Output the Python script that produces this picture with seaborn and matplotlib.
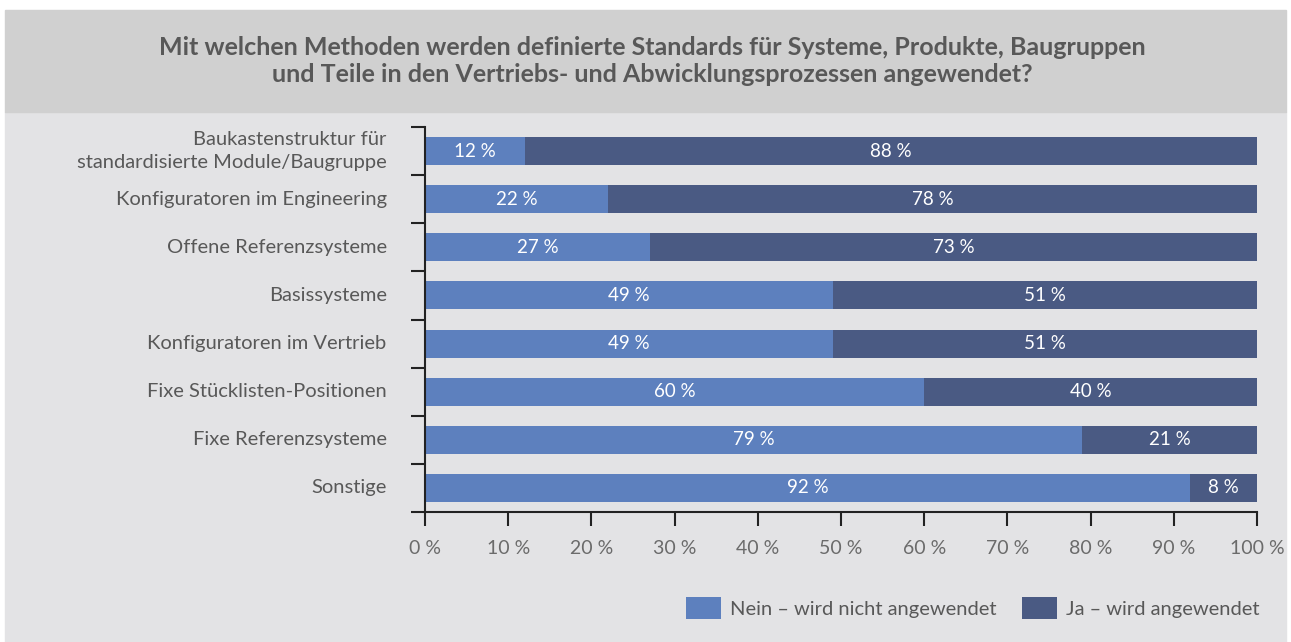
import matplotlib
matplotlib.use("Agg")
import matplotlib.pyplot as plt
import seaborn as sns
import pandas as pd
from matplotlib.patches import Rectangle, Patch

# ---------------------
# Data
# ---------------------
methods = [
    'Baukastenstruktur für\nstandardisierte Module/Baugruppe',
    'Konfiguratoren im Engineering',
    'Offene Referenzsysteme',
    'Basissysteme',
    'Konfiguratoren im Vertrieb',
    'Fixe Stücklisten-Positionen',
    'Fixe Referenzsysteme',
    'Sonstige',
]
nein = [12, 22, 27, 49, 49, 60, 79, 92]
ja = [88, 78, 73, 51, 51, 40, 21, 8]

title = ('Mit welchen Methoden werden definierte Standards für Systeme, Produkte, Baugruppen\n'
         'und Teile in den Vertriebs- und Abwicklungsprozessen angewendet?')
legend_labels = ['Nein – wird nicht angewendet', 'Ja – wird angewendet']

c_nein = '#5d80be'
c_ja = '#4a5a83'
bg = '#e3e3e5'
band = '#d0d0d0'
txt = '#585858'

df = pd.DataFrame({'method': methods, 'nein': nein, 'ja': ja})
df['total'] = df['nein'] + df['ja']

sns.set_style('white')
plt.rcParams['font.family'] = ['Lato', 'DejaVu Sans']

W, H = 1291, 642
fig = plt.figure(figsize=(W / 100, H / 100), dpi=100, facecolor='white')

# background panels
fig.patches.append(Rectangle((5 / W, 0), 1 - 10 / W, (H - 112) / H,
                             transform=fig.transFigure, color=bg, zorder=-2))
fig.patches.append(Rectangle((5 / W, (H - 112) / H), 1 - 10 / W, 102 / H,
                             transform=fig.transFigure, color=band, zorder=-2))
fig.text(0.505, (H - 61) / H, title, ha='center', va='center', fontsize=18,
         fontweight='bold', color=txt, linespacing=1.2)

ax = fig.add_axes([425 / W, (H - 512) / H, 832 / W, 385 / H])
ax.set_facecolor('none')

# stacked bars: full length in dark, "Nein" share on top in light
sns.barplot(data=df, x='total', y='method', orient='h', color=c_ja,
            width=0.58, saturation=1, linewidth=0, ax=ax)
sns.barplot(data=df, x='nein', y='method', orient='h', color=c_nein,
            width=0.58, saturation=1, linewidth=0, ax=ax)

for i, (n, j) in enumerate(zip(nein, ja)):
    ax.text(n / 2, i, f'{n} %', ha='center', va='center', color='white', fontsize=13.5)
    ax.text(n + j / 2, i, f'{j} %', ha='center', va='center', color='white', fontsize=13.5)

ax.set_xlim(0, 100)
ax.set_ylim(len(methods) - 0.5, -0.5)
ax.set_xlabel('')
ax.set_ylabel('')

ax.set_xticks(range(0, 101, 10))
ax.set_xticklabels([f'{v} %' for v in range(0, 101, 10)], color='#6b6b6b', fontsize=14)
ax.set_yticks([i - 0.5 for i in range(len(methods) + 1)], minor=False)
ax.set_yticklabels([])
for i, m in enumerate(methods):
    ax.text(-4.6, i, m, ha='right', va='center', color=txt, fontsize=14.5,
            linespacing=1.45)

ax.tick_params(axis='x', bottom=True, direction='out', length=10, width=1.5,
               color='#222222', pad=10)
ax.tick_params(axis='y', left=True, direction='out', length=10, width=1.5,
               color='#222222')
for s in ['top', 'right']:
    ax.spines[s].set_visible(False)
for s in ['left', 'bottom']:
    ax.spines[s].set_color('#222222')
    ax.spines[s].set_linewidth(1.5)

handles = [Patch(facecolor=c_nein, edgecolor='none', label=legend_labels[0]),
           Patch(facecolor=c_ja, edgecolor='none', label=legend_labels[1])]
leg = fig.legend(handles=handles, loc='center right',
                 bbox_to_anchor=(1278 / W, (H - 608) / H), ncol=2, frameon=False,
                 fontsize=14.5, handlelength=1.75, handleheight=1.25,
                 handletextpad=0.45, columnspacing=1.25)
for t in leg.get_texts():
    t.set_color(txt)

fig.savefig('out.png', dpi=100, facecolor=fig.get_facecolor())
